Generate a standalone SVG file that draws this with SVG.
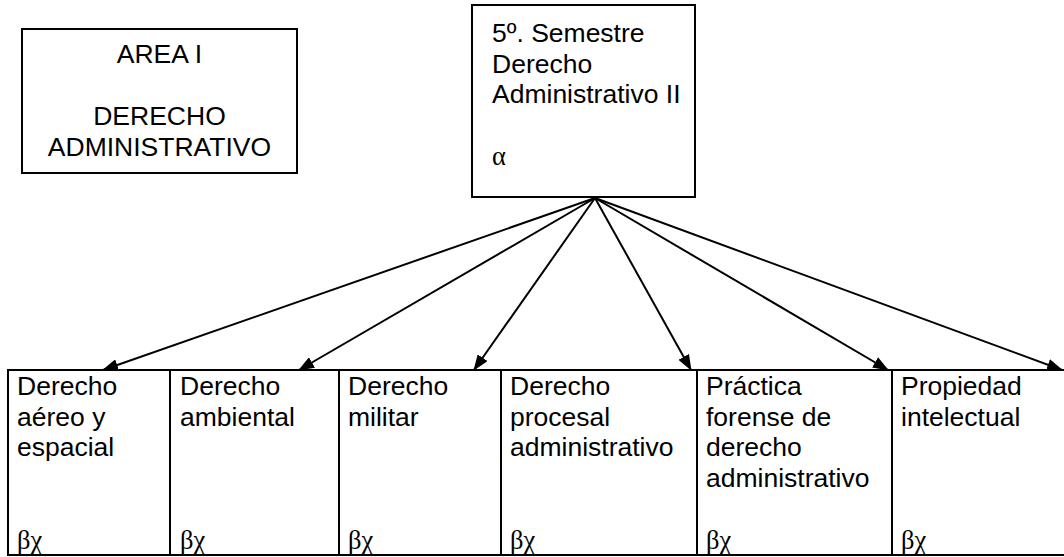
<svg xmlns="http://www.w3.org/2000/svg" width="1064" height="557" viewBox="0 0 1064 557">
<style>
.box{fill:#fff;stroke:#000;stroke-width:2}
.t{font-family:"Liberation Sans",Arial,sans-serif;font-size:26.5px;fill:#000}
.g{font-family:"Liberation Serif","Times New Roman",serif;font-size:26.5px;fill:#000}
.c{text-anchor:middle}
.conn{stroke:#000;stroke-width:2;fill:none}
</style>
<defs>
<marker id="ah" markerWidth="16" markerHeight="12" refX="15" refY="6" orient="auto" markerUnits="userSpaceOnUse">
<path d="M0,0 L16,6 L0,12 z" fill="#000"/>
</marker>
</defs>
<rect width="1064" height="557" fill="#fff"/>
<g id="area">
<rect class="box" x="22" y="29" width="275" height="144"/>
<text class="t c" x="159.5" y="63">AREA I</text>
<text class="t c" x="159.5" y="125">DERECHO</text>
<text class="t c" x="159.5" y="155.5">ADMINISTRATIVO</text>
</g>
<g id="semestre">
<rect class="box" x="472" y="5" width="223" height="192"/>
<text class="t" x="492" y="42">5º. Semestre</text>
<text class="t" x="492" y="72.5">Derecho</text>
<text class="t" x="492" y="103">Administrativo II</text>
<text class="g" x="492" y="165">α</text>
</g>
<g id="connectors">
<line class="conn" x1="595" y1="198" x2="103" y2="370" marker-end="url(#ah)"/>
<line class="conn" x1="595" y1="198" x2="299" y2="370" marker-end="url(#ah)"/>
<line class="conn" x1="595" y1="198" x2="474" y2="370" marker-end="url(#ah)"/>
<line class="conn" x1="595" y1="198" x2="691" y2="370" marker-end="url(#ah)"/>
<line class="conn" x1="595" y1="198" x2="888" y2="370" marker-end="url(#ah)"/>
<line class="conn" x1="595" y1="198" x2="1062" y2="370" marker-end="url(#ah)"/>
</g>
<g id="n1">
<rect class="box" x="8" y="370" width="162" height="185"/>
<text class="t" x="17" y="395">Derecho</text>
<text class="t" x="17" y="425.5">aéreo y</text>
<text class="t" x="17" y="456">espacial</text>
<text class="g" x="17" y="549">βχ</text>
</g>
<g id="n2">
<rect class="box" x="170" y="370" width="169" height="185"/>
<text class="t" x="180" y="395">Derecho</text>
<text class="t" x="180" y="425.5">ambiental</text>
<text class="g" x="180" y="549">βχ</text>
</g>
<g id="n3">
<rect class="box" x="339" y="370" width="162" height="185"/>
<text class="t" x="348" y="395">Derecho</text>
<text class="t" x="348" y="425.5">militar</text>
<text class="g" x="348" y="549">βχ</text>
</g>
<g id="n4">
<rect class="box" x="501" y="370" width="196" height="185"/>
<text class="t" x="510" y="395">Derecho</text>
<text class="t" x="510" y="425.5">procesal</text>
<text class="t" x="510" y="456">administrativo</text>
<text class="g" x="510" y="549">βχ</text>
</g>
<g id="n5">
<rect class="box" x="697" y="370" width="195" height="185"/>
<text class="t" x="706" y="395">Práctica</text>
<text class="t" x="706" y="425.5">forense de</text>
<text class="t" x="706" y="456">derecho</text>
<text class="t" x="706" y="486.5">administrativo</text>
<text class="g" x="706" y="549">βχ</text>
</g>
<g id="n6">
<rect class="box" x="892" y="370" width="180" height="185"/>
<text class="t" x="901" y="395">Propiedad</text>
<text class="t" x="901" y="425.5">intelectual</text>
<text class="g" x="901" y="549">βχ</text>
</g>
</svg>
